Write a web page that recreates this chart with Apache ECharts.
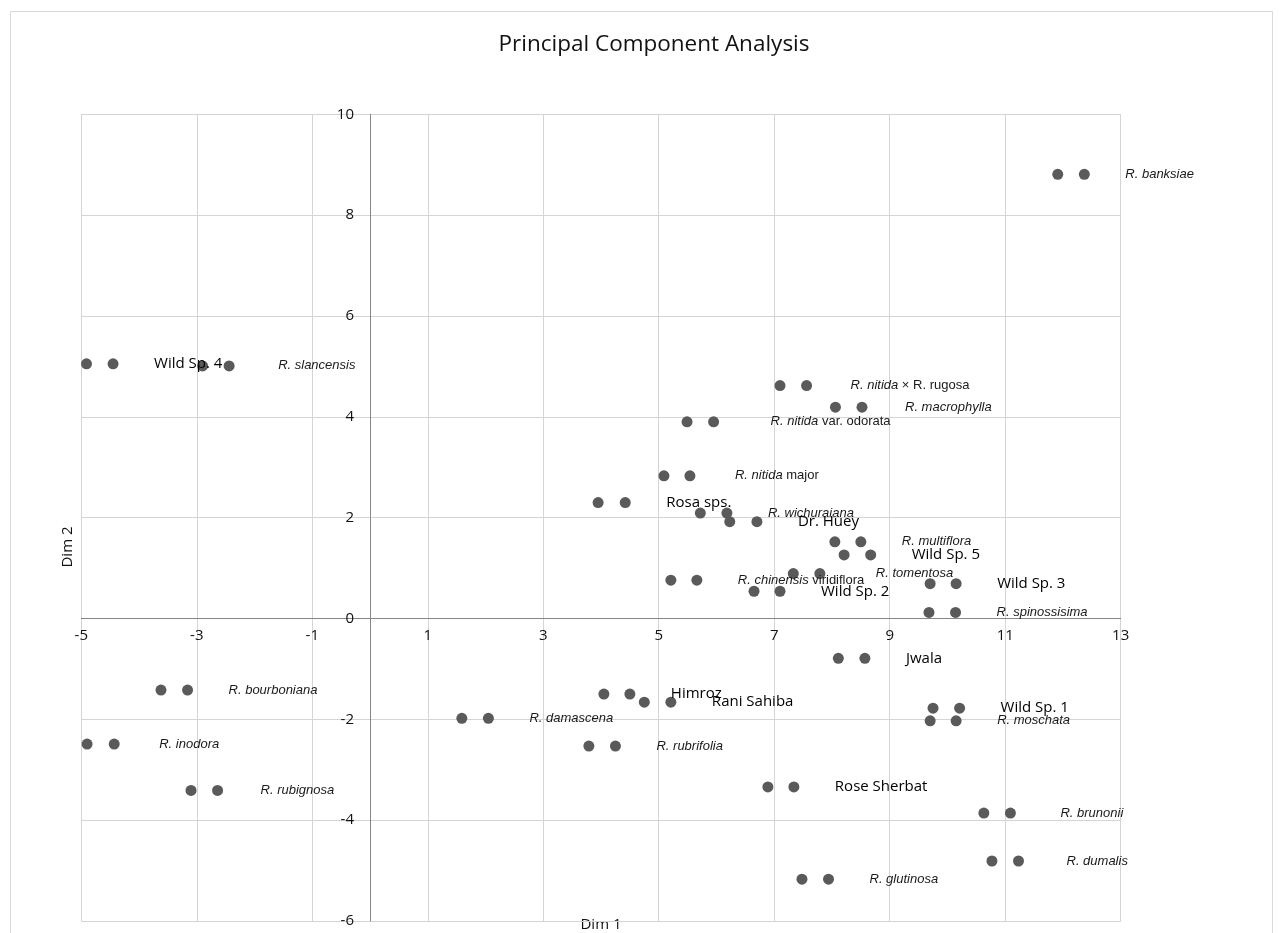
<!DOCTYPE html>
<html>
<head>
<meta charset="utf-8">
<script src="https://cdn.jsdelivr.net/npm/echarts@6/dist/echarts.min.js"></script>
<style>
html,body{margin:0;padding:0;background:#fff;}
#chart{width:1279px;height:933px;}
</style>
</head>
<body>
<div id="chart"></div>
<script>
// ---- data ----
var names = [
  "R. banksiae", "Wild Sp. 4", "R. slancensis", "R. nitida × R. rugosa", "R. macrophylla",
  "R. nitida var. odorata", "R. nitida major", "Rosa sps.", "R. wichuraiana", "Dr. Huey",
  "R. multiflora", "Wild Sp. 5", "R. tomentosa", "R. chinensis viridiflora", "Wild Sp. 3",
  "Wild Sp. 2", "R. spinossisima", "Jwala", "R. bourboniana", "Himroz",
  "Rani Sahiba", "Wild Sp. 1", "R. damascena", "R. moschata", "R. inodora",
  "R. rubrifolia", "R. rubignosa", "Rose Sherbat", "R. brunonii", "R. dumalis",
  "R. glutinosa"
];
// italic part of each name (empty = plain cultivar / wild label)
var italicPart = [
  "R. banksiae", "", "R. slancensis", "R. nitida", "R. macrophylla",
  "R. nitida", "R. nitida", "", "R. wichuraiana", "",
  "R. multiflora", "", "R. tomentosa", "R. chinensis", "",
  "", "R. spinossisima", "", "R. bourboniana", "",
  "", "", "R. damascena", "R. moschata", "R. inodora",
  "R. rubrifolia", "R. rubignosa", "", "R. brunonii", "R. dumalis",
  "R. glutinosa"
];
var dim1a = [11.91, -4.91, -2.90, 7.10, 8.06, 5.49, 5.09, 3.95, 5.72, 6.23,
             8.05, 8.21, 7.33, 5.21, 9.70, 6.65, 9.68, 8.11, -3.62, 4.05,
             4.75, 9.75, 1.59, 9.70, -4.90, 3.79, -3.10, 6.89, 10.63, 10.77, 7.48];
var dim1b = [12.37, -4.45, -2.44, 7.56, 8.52, 5.95, 5.54, 4.42, 6.18, 6.70,
             8.50, 8.67, 7.79, 5.66, 10.15, 7.10, 10.14, 8.57, -3.16, 4.50,
             5.21, 10.21, 2.05, 10.15, -4.43, 4.25, -2.64, 7.34, 11.09, 11.23, 7.94];
var dim2 = [8.81, 5.05, 5.01, 4.62, 4.19, 3.90, 2.83, 2.30, 2.09, 1.92,
            1.52, 1.26, 0.89, 0.76, 0.69, 0.54, 0.12, -0.79, -1.42, -1.50,
            -1.66, -1.78, -1.98, -2.03, -2.49, -2.53, -3.41, -3.34, -3.86, -4.81, -5.17];
var xMin = -5, xMax = 13, xStep = 2;
var yMin = -6, yMax = 10, yStep = 2;
var xTitle = "Dim 1", yTitle = "Dim 2";
var chartTitle = "Principal Component Analysis";

// ---- styling / layout ----
var W = 1279, H = 933;
var G = { left: 81.3, right: 158.3, top: 114.3, bottom: 12 };
var plotW = W - G.left - G.right, plotH = H - G.top - G.bottom;
// axes cross at zero: shift each axis from its grid edge to the zero line
var xAxisOffset = -plotH * (0 - yMin) / (yMax - yMin);
var yAxisOffset = -plotW * (0 - xMin) / (xMax - xMin);

var SYM = 11;
var baseGap = 41; // label start distance from point centre (px)
var gapOverride = {
  "R. nitida var. odorata": 57, "R. tomentosa": 56, "R. slancensis": 49,
  "R. brunonii": 50, "R. dumalis": 48, "R. inodora": 45, "R. nitida major": 45,
  "R. nitida × R. rugosa": 44, "R. macrophylla": 43, "R. rubignosa": 43
};

function fmtLabel(i){
  var n = names[i], it = italicPart[i];
  if (!it) return "{c|" + n + "}";
  var rest = n.slice(it.length);
  return "{i|" + it + "}" + (rest ? "{a|" + rest + "}" : "");
}

var data = [];
for (var i = 0; i < names.length; i++) {
  data.push({ value: [dim1a[i], dim2[i]] });
  var gap = gapOverride[names[i]] || baseGap;
  data.push({
    value: [dim1b[i], dim2[i]],
    label: { show: true, position: "right", distance: gap - SYM / 2, formatter: fmtLabel(i) }
  });
}

var chart = echarts.init(document.getElementById("chart"), null, { renderer: "canvas" });
chart.setOption({
  animation: false,
  backgroundColor: "#ffffff",
  title: {
    text: chartTitle, left: 649, top: 28, textAlign: "center",
    textStyle: { fontFamily: "Open Sans", fontWeight: "normal", fontSize: 22.5, color: "#111" }
  },
  grid: { left: G.left, right: G.right, top: G.top, bottom: G.bottom, containLabel: false },
  xAxis: {
    type: "value", min: xMin, max: xMax, interval: xStep, position: "bottom", offset: xAxisOffset,
    axisLine: { show: true, onZero: false, lineStyle: { color: "#868686", width: 1 } },
    axisTick: { show: false },
    axisLabel: { margin: 10, fontSize: 15, color: "#111", fontFamily: "Open Sans" },
    splitLine: { show: true, lineStyle: { color: "#d4d4d4", width: 1 } }
  },
  yAxis: {
    type: "value", min: yMin, max: yMax, interval: yStep, position: "left", offset: yAxisOffset,
    axisLine: { show: true, onZero: false, lineStyle: { color: "#868686", width: 1 } },
    axisTick: { show: false },
    axisLabel: { margin: 16, fontSize: 15, color: "#111", fontFamily: "Open Sans" },
    splitLine: { show: true, lineStyle: { color: "#d4d4d4", width: 1 } }
  },
  series: [{
    type: "scatter",
    symbol: "circle",
    symbolSize: SYM,
    itemStyle: { color: "#5a5a5a", opacity: 1 },
    label: {
      show: false,
      rich: {
        i: { fontFamily: "Liberation Sans", fontStyle: "italic", fontSize: 13, color: "#1a1a1a" },
        a: { fontFamily: "Liberation Sans", fontSize: 13, color: "#1a1a1a" },
        c: { fontFamily: "Open Sans", fontSize: 15, color: "#000" }
      }
    },
    data: data
  }],
  graphic: [
    { type: "rect", left: 8, top: 9, shape: { width: 1262, height: 940 }, silent: true,
      style: { fill: "none", stroke: "#d9d9d9", lineWidth: 1 }, z: -1 },
    { type: "text", x: 601, y: 925, style: { text: xTitle, fontFamily: "Open Sans", fontSize: 15,
      fill: "#111", textAlign: "center", textVerticalAlign: "middle" } },
    { type: "text", x: 68, y: 547, rotation: Math.PI / 2, style: { text: yTitle, fontFamily: "Open Sans", fontSize: 15,
      fill: "#111", textAlign: "center", textVerticalAlign: "middle" } }
  ]
});
</script>
</body>
</html>
